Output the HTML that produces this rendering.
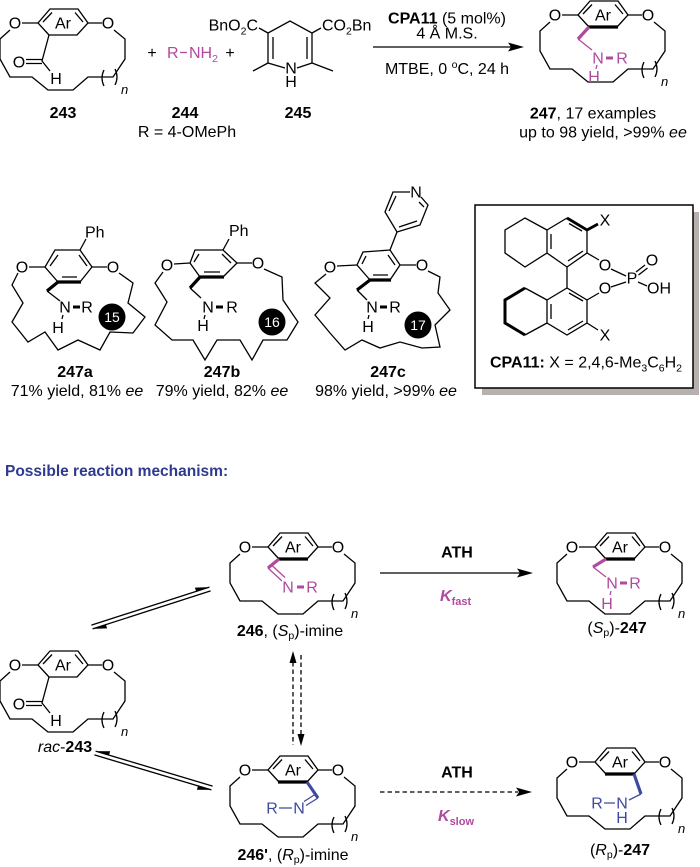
<!DOCTYPE html>
<html><head><meta charset="utf-8">
<style>
html,body{margin:0;padding:0;background:#fff;width:700px;height:867px;overflow:hidden}
svg{display:block}
.b{stroke:#000;stroke-width:1.3;fill:none}
.w{stroke:#000;stroke-width:3.2;fill:none}
.bm{stroke:#b04a9e;stroke-width:1.3;fill:none}
.wm{stroke:#b04a9e;stroke-width:3.2;fill:none}
.bu{stroke:#3d4aa0;stroke-width:1.3;fill:none}
.wu{stroke:#3d4aa0;stroke-width:3.2;fill:none}
.d{stroke:#000;stroke-width:1.3;fill:none;stroke-dasharray:4.5,3}
text{font-family:"Liberation Sans",Arial,sans-serif;font-size:16px;fill:#000}
.a{text-anchor:middle}
.bd{font-weight:bold}
.it{font-style:italic}
.n{font-style:italic;font-size:13px}
.m{fill:#b04a9e}
.u{fill:#3d4aa0}
.wt{fill:#fff;font-size:14px;text-anchor:middle}
</style></head><body>
<svg width="700" height="867" viewBox="0 0 700 867" xmlns="http://www.w3.org/2000/svg">

<!-- ===== 243 ===== -->
<g transform="translate(63,23)">
<path class="b" d="M-14,12 L-25,0 L-13,-14 L15,-14 L25,0 L14,12 Z"/>
<path class="b" d="M-20,-1 L-11,-10.5 M12,-10.5 L20,-1"/>
<path class="b" d="M-41,0 L-25,0 M25,0 L39,0 M-53,7 L-63,16 L-63,36 L-53,54 L-31,54 L-15,67 L10,67 L25,54 L50,54 L62,36 L62,16 L51,7"/>
<path class="b" d="M41,47 Q37,55 41,63 M52,46 Q56,54 52,62"/>
<text class="a" x="-48" y="5.5">O</text><text class="a" x="45" y="5.5">O</text><text class="a" x="0" y="5.5">Ar</text>
<text class="n" x="58" y="71">n</text>
<path class="b" d="M-14,12 L-21,38 L-13,48 M-21,36.5 L-37,36.5 M-21,40.5 L-37,40.5"/>
<text class="a" x="-44" y="44.5">O</text><text class="a" x="-7" y="61">H</text>
</g>
<text class="a bd" x="63" y="118">243</text>

<!-- + R-NH2 + -->
<text class="a" x="152" y="58">+</text>
<text class="m" x="167" y="58">R</text>
<path class="bm" d="M180,52.5 L187,52.5"/>
<text class="m" x="189" y="58">NH<tspan font-size="10.5" dy="4">2</tspan></text>
<text class="a" x="230" y="58">+</text>
<text class="a bd" x="185" y="118">244</text>
<text class="a" x="187" y="137">R = 4-OMePh</text>

<!-- 245 -->
<path class="b" d="M285,68 L268,63 L268,33 L290,21 L312,33 L312,63 L297,68 M273,37 L273,59 M307,37 L307,59 M268,63 L253,71 M312,63 L333,71 M259,28 L268,33 M312,33 L321,28"/>
<text x="258" y="30.5" text-anchor="end">BnO<tspan font-size="10.5" dy="4">2</tspan><tspan dy="-4">C</tspan></text>
<text x="322" y="30.5">CO<tspan font-size="10.5" dy="4">2</tspan><tspan dy="-4">Bn</tspan></text>
<text class="a" x="291" y="73.5">N</text>
<text class="a" x="291" y="87">H</text>
<text class="a bd" x="298" y="118">245</text>

<!-- top arrow -->
<path class="b" d="M373,47 L512,47"/>
<polygon points="524,47 508,42.5 511,47 508,51.5" fill="#000"/>
<text class="a" x="447" y="23.5"><tspan class="bd">CPA11</tspan>  (5 mol%)</text>
<text class="a" x="447" y="38.5">4 Å M.S.</text>
<text class="a" x="447" y="74">MTBE, 0 <tspan font-size="10.5" dy="-6">o</tspan><tspan dy="6">C, 24 h</tspan></text>

<!-- ===== 247 ===== -->
<g transform="translate(603,15)">
<path class="b" d="M-14,12 L-25,0 L-13,-14 L15,-14 L25,0 L14,12"/>
<path class="w" d="M-15,12 L15,12"/>
<path class="b" d="M-20,-1 L-11,-10.5 M12,-10.5 L20,-1"/>
<path class="b" d="M-41,0 L-25,0 M25,0 L39,0 M-53,7 L-63,16 L-63,36 L-53,54 L-31,54 L-15,67 L10,67 L25,54 L50,54 L62,36 L62,16 L51,7"/>
<path class="b" d="M41,47 Q37,55 41,63 M52,46 Q56,54 52,62"/>
<text class="a" x="-48" y="5.5">O</text><text class="a" x="45" y="5.5">O</text><text class="a" x="0" y="5.5">Ar</text>
<text class="n" x="58" y="71">n</text>
<path class="wm" d="M-14,12 L-25,24"/>
<path class="bm" d="M-25,24 L-11,35 M-6,50 L-7,54"/>
<text class="a m" x="-5" y="48.5">N</text>
<path class="wm" d="M3,43 L10,43" style="stroke-width:3"/>
<text class="a m" x="19" y="48.5">R</text>
<text class="a m" x="-9" y="67">H</text>
</g>
<text class="a" x="593" y="118.5"><tspan class="bd">247</tspan>, 17 examples</text>
<text class="a" x="603" y="137.5">up to 98 yield, &gt;99% <tspan class="it">ee</tspan></text>

<!-- ===== 247a ===== -->
<path class="b" d="M58,282 L45,267 L55,250 L80,250 L92,267 L80,282"/>
<path class="w" d="M57,282 L81,282"/>
<path class="b" d="M50,266 L58,255 M79,255 L87,266 M62,277 L77,277 M80,250 L86,239 M29,267 L45,267 M92,267 L107,267"/>
<text x="85" y="237.5">Ph</text>
<text class="a" x="22" y="272.5">O</text><text class="a" x="113" y="272.5">O</text>
<path class="b" d="M18,273 L12,285 L23,303 L12,322 L28,342 L45,332 L58,350 L78,340 L100,350 L110,332 L133,333 L145,317 L128,303 L133,283 L119,273"/>
<path class="w" d="M58,282 L47,291"/>
<path class="b" d="M47,291 L60,301 M63,315 L62,319"/>
<text class="a" x="65" y="312.5">N</text>
<path class="w" d="M73,307 L80,307" style="stroke-width:3"/>
<text class="a" x="87" y="312.5">R</text>
<text class="a" x="58" y="333">H</text>
<circle cx="112" cy="317" r="13.5" fill="#000"/>
<text class="wt" x="112" y="322">15</text>
<text class="a bd" x="75" y="377">247a</text>
<text class="a" x="77" y="396">71% yield, 81% <tspan class="it">ee</tspan></text>

<!-- ===== 247b ===== -->
<path class="b" d="M200,277 L190,263 L195,250 L223,250 L237,263 L223,277"/>
<path class="w" d="M199,277 L224,277"/>
<path class="b" d="M194,262 L199,254 M222,254 L231,263 M204,272 L220,272 M223,250 L229,239 M174,264 L190,263 M237,263 L252,263"/>
<text x="229" y="236">Ph</text>
<text class="a" x="167" y="270.5">O</text><text class="a" x="258" y="268.5">O</text>
<path class="b" d="M163,272 L155,283 L167,302 L155,325 L172,340 L193,340 L205,360 L217,340 L240,340 L252,360 L263,340 L287,340 L298,322 L283,300 L282,277 L264,269"/>
<path class="w" d="M200,277 L190,288"/>
<path class="b" d="M190,288 L201,298 M205,315 L204,319"/>
<text class="a" x="208" y="312.5">N</text>
<path class="w" d="M216,307 L223,307" style="stroke-width:3"/>
<text class="a" x="232" y="312.5">R</text>
<text class="a" x="203" y="331">H</text>
<circle cx="272" cy="322" r="13.5" fill="#000"/>
<text class="wt" x="272" y="327">16</text>
<text class="a bd" x="222" y="377">247b</text>
<text class="a" x="222" y="396">79% yield, 82% <tspan class="it">ee</tspan></text>

<!-- ===== 247c ===== -->
<path class="b" d="M370,280 L357,265 L363,252 L390,250 L400,265 L390,280"/>
<path class="w" d="M369,280 L391,280"/>
<path class="b" d="M362,264 L366,256 M388,255 L395,265 M373,275 L388,275 M390,250 L397,232 M337,266 L357,265 M400,265 L416,265"/>
<path class="b" d="M410,192 L393,192 L385,212 L397,232 L420,225 L428,205 L421,197 M389,211 L396,196 M417,221 L399,227 M419,202 L424,207"/>
<text class="a" x="416" y="197.5">N</text>
<text class="a" x="330" y="272.5">O</text><text class="a" x="422" y="270.5">O</text>
<path class="b" d="M326,274 L315,283 L330,298 L315,315 L330,333 L345,350 L362,340 L380,348 L400,342 L422,348 L440,347 L435,325 L450,310 L438,293 L440,277 L428,271"/>
<path class="w" d="M370,280 L357,290"/>
<path class="b" d="M357,290 L367,300 M369,315 L368,319"/>
<text class="a" x="372" y="312.5">N</text>
<path class="w" d="M380,307 L387,307" style="stroke-width:3"/>
<text class="a" x="395" y="312.5">R</text>
<text class="a" x="368" y="332">H</text>
<circle cx="418" cy="325" r="13.5" fill="#000"/>
<text class="wt" x="418" y="330">17</text>
<text class="a bd" x="388" y="377">247c</text>
<text class="a" x="386" y="396">98% yield, &gt;99% <tspan class="it">ee</tspan></text>

<!-- ===== CPA11 box ===== -->
<rect x="482" y="212" width="217" height="183" fill="#b6b1ae"/>
<rect x="475" y="205" width="218" height="183" fill="#fff" stroke="#000" stroke-width="1.5"/>
<path class="b" d="M547,230 L525,218 L505,230 L505,253 L525,267 L547,253"/>
<path class="b" d="M547,230 L567,218 M587,230 L587,253 L567,267 L547,253 L547,230 M551,234 L551,249 M583,251 L568,261"/>
<path class="w" d="M567,218 L587,230 L598,224" style="stroke-width:2.8"/>
<path class="b" d="M569,223.5 L582,231"/>
<text class="a" x="605" y="225.5">X</text>
<path class="b" d="M587,253 L599,260"/>
<text class="a" x="605" y="270.5">O</text>
<path class="b" d="M611,269 L626,276"/>
<text class="a" x="632" y="283.5">P</text>
<path class="b" d="M636,272 L645,265 M638.5,275 L647.5,268"/>
<text class="a" x="652" y="265.5">O</text>
<path class="b" d="M638,282 L647,286"/>
<text x="647" y="293.5">OH</text>
<path class="b" d="M626,282 L611,287"/>
<text class="a" x="605" y="293.5">O</text>
<path class="b" d="M599,293 L587,300 M567,267 L567,288"/>
<path class="b" d="M547,300 L567,288 L587,300 L587,323 L567,335 L547,323 Z M551,304 L551,319 M569,293 L583,301 M583,321 L568,330"/>
<path class="b" d="M547,300 L525,288 M525,335 L547,323"/>
<path class="w" d="M525,288 L505,300 L505,323 L525,335" style="stroke-width:3"/>
<path class="b" d="M587,323 L598,330"/>
<text class="a" x="605" y="340.5">X</text>
<text x="490" y="367.5"><tspan class="bd">CPA11:</tspan>  X = 2,4,6-Me<tspan font-size="10.5" dy="4">3</tspan><tspan dy="-4">C</tspan><tspan font-size="10.5" dy="4">6</tspan><tspan dy="-4">H</tspan><tspan font-size="10.5" dy="4">2</tspan></text>

<!-- heading -->
<text x="5" y="476" class="bd" style="fill:#2e3a8f;font-size:15.5px">Possible reaction mechanism:</text>

<!-- ===== 246 ===== -->
<g transform="translate(293,547)">
<path class="b" d="M-14,12 L-25,0 L-13,-14 L15,-14 L25,0 L14,12"/>
<path class="w" d="M-15,12 L15,12"/>
<path class="b" d="M-20,-1 L-11,-10.5 M12,-10.5 L20,-1"/>
<path class="b" d="M-41,0 L-25,0 M25,0 L39,0 M-53,7 L-63,16 L-63,36 L-53,54 L-31,54 L-15,67 L10,67 L25,54 L50,54 L62,36 L62,16 L51,7"/>
<path class="b" d="M41,47 Q37,55 41,63 M52,46 Q56,54 52,62"/>
<text class="a" x="-48" y="5.5">O</text><text class="a" x="45" y="5.5">O</text><text class="a" x="0" y="5.5">Ar</text>
<text class="n" x="58" y="71">n</text>
<path class="wm" d="M-14,12 L-25,21"/>
<path class="bm" d="M-25,21 L-11,34 M-21,18.5 L-8,30.5"/>
<text class="a m" x="-5" y="45.5">N</text>
<path class="wm" d="M4,40 L11,40" style="stroke-width:3"/>
<text class="a m" x="19" y="45.5">R</text>
</g>
<text class="a" x="290" y="636"><tspan class="bd">246</tspan>, (<tspan class="it">S</tspan><tspan font-size="10.5" dy="3">p</tspan><tspan dy="-3">)-imine</tspan></text>

<!-- ATH fast -->
<text class="a bd" x="457" y="557.5">ATH</text>
<path class="b" d="M380,573 L520,573"/>
<polygon points="533,573 517,568.5 520,573 517,577.5" fill="#000"/>
<text x="440" y="601" class="m bd it" font-size="17">K<tspan font-size="11" font-style="normal" dy="4">fast</tspan></text>

<!-- ===== (Sp)-247 ===== -->
<g transform="translate(620,547)">
<path class="b" d="M-14,12 L-25,0 L-13,-14 L15,-14 L25,0 L14,12"/>
<path class="w" d="M-15,12 L15,12"/>
<path class="b" d="M-20,-1 L-11,-10.5 M12,-10.5 L20,-1"/>
<path class="b" d="M-41,0 L-25,0 M25,0 L39,0 M-53,7 L-63,16 L-63,36 L-53,54 L-31,54 L-15,67 L10,67 L25,54 L50,54 L62,36 L62,16 L51,7"/>
<path class="b" d="M41,47 Q37,55 41,63 M52,46 Q56,54 52,62"/>
<text class="a" x="-48" y="5.5">O</text><text class="a" x="45" y="5.5">O</text><text class="a" x="0" y="5.5">Ar</text>
<text class="n" x="58" y="71">n</text>
<path class="wm" d="M-14,12 L-27,20"/>
<path class="bm" d="M-27,20 L-14,30 M-9,44 L-10,48"/>
<text class="a m" x="-8" y="41.5">N</text>
<path class="wm" d="M0,36 L7,36" style="stroke-width:3"/>
<text class="a m" x="15" y="41.5">R</text>
<text class="a m" x="-13" y="62">H</text>
</g>
<text class="a" x="617" y="633">(<tspan class="it">S</tspan><tspan font-size="10.5" dy="3">p</tspan><tspan dy="-3">)-</tspan><tspan class="bd">247</tspan></text>

<!-- equilibrium upper -->
<path class="b" d="M91.4,625.1 L209.4,587.1 M92.6,628.9 L210.6,590.9"/>
<polygon points="209.4,587.1 196.1,591.4 194.9,587.6" fill="#000"/>
<polygon points="92.6,628.9 105.9,624.6 107.1,628.4" fill="#000"/>

<!-- ===== rac-243 ===== -->
<g transform="translate(63,665)">
<path class="b" d="M-14,12 L-25,0 L-13,-14 L15,-14 L25,0 L14,12 Z"/>
<path class="b" d="M-20,-1 L-11,-10.5 M12,-10.5 L20,-1"/>
<path class="b" d="M-41,0 L-25,0 M25,0 L39,0 M-53,7 L-63,16 L-63,36 L-53,54 L-31,54 L-15,67 L10,67 L25,54 L50,54 L62,36 L62,16 L51,7"/>
<path class="b" d="M41,47 Q37,55 41,63 M52,46 Q56,54 52,62"/>
<text class="a" x="-48" y="5.5">O</text><text class="a" x="45" y="5.5">O</text><text class="a" x="0" y="5.5">Ar</text>
<text class="n" x="58" y="71">n</text>
<path class="b" d="M-14,12 L-21,38 L-13,48 M-21,36.5 L-37,36.5 M-21,40.5 L-37,40.5"/>
<text class="a" x="-44" y="44.5">O</text><text class="a" x="-7" y="61">H</text>
</g>
<text class="a" x="65" y="752"><tspan class="it">rac</tspan>-<tspan class="bd">243</tspan></text>

<!-- equilibrium lower -->
<path class="b" d="M95.6,751.1 L212.6,786.1 M94.4,754.9 L211.4,789.9"/>
<polygon points="95.6,751.1 109,755.1 110.2,751.3" fill="#000"/>
<polygon points="211.4,789.9 198,785.9 196.9,789.7" fill="#000"/>

<!-- vertical dashed arrows -->
<path class="d" d="M293,662 L293,745"/>
<polygon points="293,651 289.5,663 296.5,663" fill="#000"/>
<path class="d" d="M301,655 L301,735"/>
<polygon points="301,746 297.5,734 304.5,734" fill="#000"/>

<!-- ===== 246' ===== -->
<g transform="translate(293,770)">
<path class="b" d="M-14,12 L-25,0 L-13,-14 L15,-14 L25,0 L14,12"/>
<path class="w" d="M-15,12 L15,12"/>
<path class="b" d="M-20,-1 L-11,-10.5 M12,-10.5 L20,-1"/>
<path class="b" d="M-41,0 L-25,0 M25,0 L39,0 M-53,7 L-63,16 L-63,36 L-53,54 L-31,54 L-15,67 L10,67 L25,54 L50,54 L62,36 L62,16 L51,7"/>
<path class="b" d="M41,47 Q37,55 41,63 M52,46 Q56,54 52,62"/>
<text class="a" x="-48" y="5.5">O</text><text class="a" x="45" y="5.5">O</text><text class="a" x="0" y="5.5">Ar</text>
<text class="n" x="58" y="71">n</text>
<path class="wu" d="M14,12 L25,28"/>
<path class="bu" d="M25,28 L13,35.5 M22,24.5 L11,31.5 M-14,38 L-1,38"/>
<text class="a u" x="6" y="43.5">N</text>
<text class="a u" x="-21" y="43.5">R</text>
</g>
<text class="a" x="293" y="860"><tspan class="bd">246'</tspan>, (<tspan class="it">R</tspan><tspan font-size="10.5" dy="3">p</tspan><tspan dy="-3">)-imine</tspan></text>

<!-- ATH slow -->
<text class="a bd" x="457" y="777.5">ATH</text>
<path class="d" d="M380,792 L518,792"/>
<polygon points="532,792 516,787.5 519,792 516,796.5" fill="#000"/>
<text x="438" y="821" class="m bd it" font-size="17">K<tspan font-size="11" font-style="normal" dy="4">slow</tspan></text>

<!-- ===== (Rp)-247 ===== -->
<g transform="translate(620,762)">
<path class="b" d="M-14,12 L-25,0 L-13,-14 L15,-14 L25,0 L14,12"/>
<path class="w" d="M-15,12 L15,12"/>
<path class="b" d="M-20,-1 L-11,-10.5 M12,-10.5 L20,-1"/>
<path class="b" d="M-41,0 L-25,0 M25,0 L39,0 M-53,7 L-63,16 L-63,36 L-53,54 L-31,54 L-15,67 L10,67 L25,54 L50,54 L62,36 L62,16 L51,7"/>
<path class="b" d="M41,47 Q37,55 41,63 M52,46 Q56,54 52,62"/>
<text class="a" x="-48" y="5.5">O</text><text class="a" x="45" y="5.5">O</text><text class="a" x="0" y="5.5">Ar</text>
<text class="n" x="58" y="71">n</text>
<path class="wu" d="M14,12 L21,32"/>
<path class="bu" d="M21,32 L9,38 M-16,41 L-5,41"/>
<text class="a u" x="2" y="46.5">N</text>
<text class="a u" x="-23" y="46.5">R</text>
<text class="a u" x="2" y="61">H</text>
</g>
<text class="a" x="620" y="855">(<tspan class="it">R</tspan><tspan font-size="10.5" dy="3">p</tspan><tspan dy="-3">)-</tspan><tspan class="bd">247</tspan></text>

</svg>
</body></html>
